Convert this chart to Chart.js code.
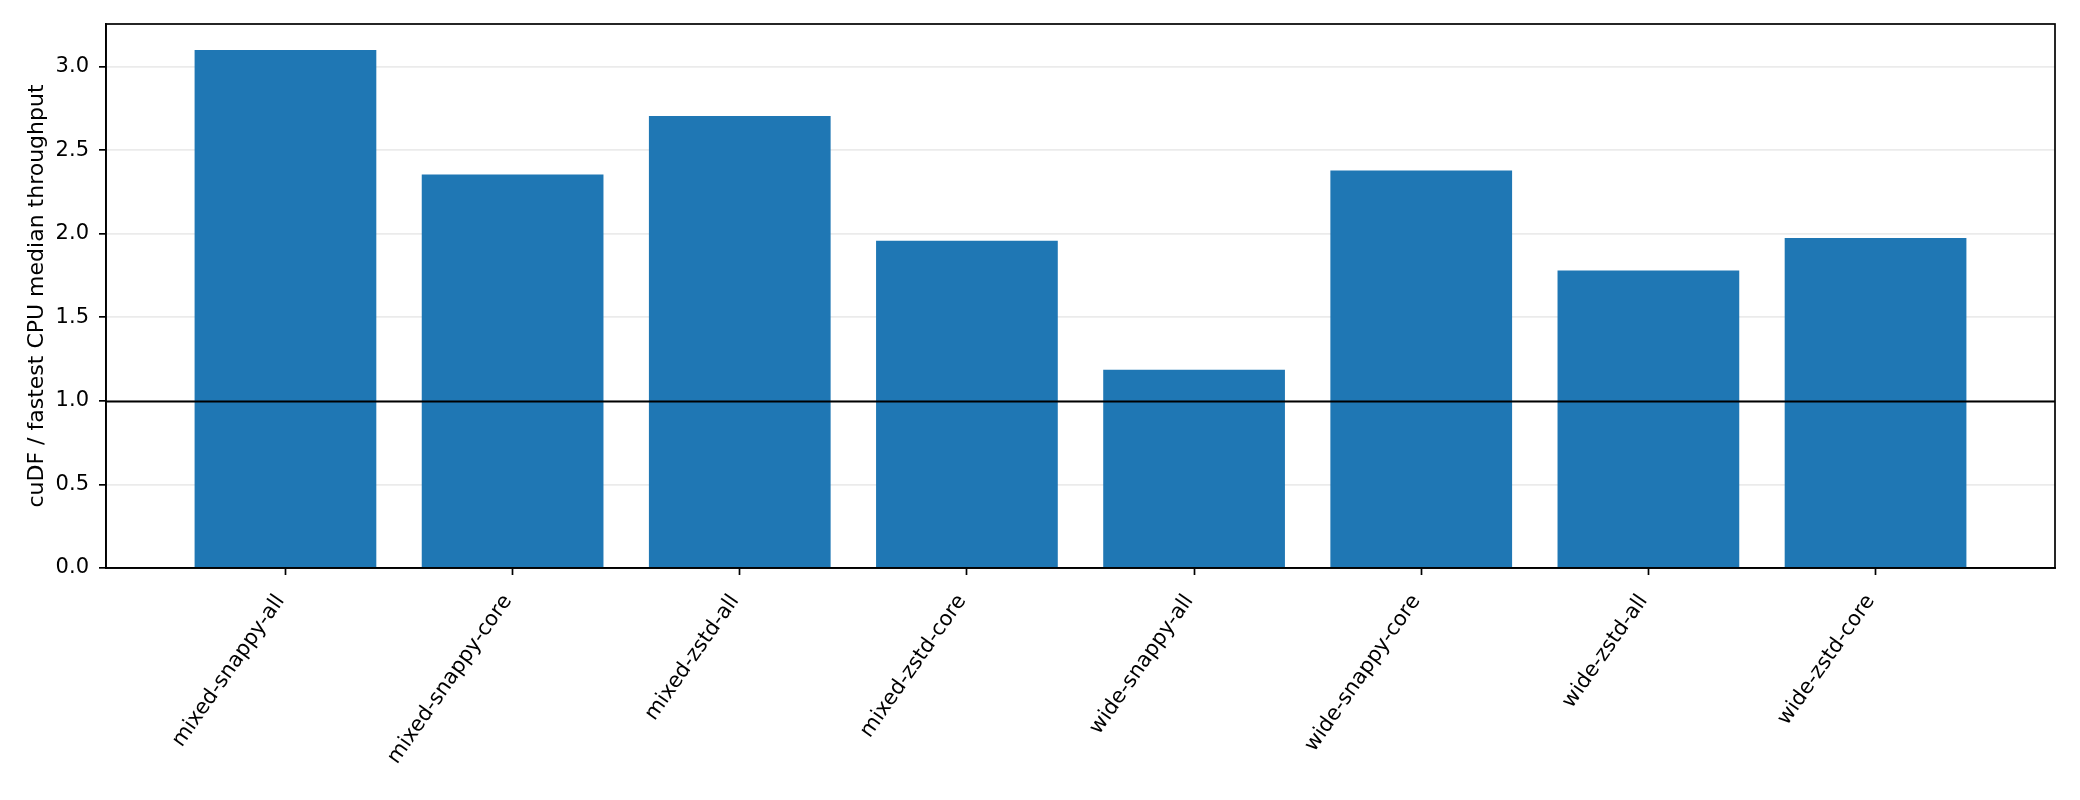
<!DOCTYPE html>
<html><head><meta charset="utf-8">
<script src="https://cdn.jsdelivr.net/npm/chart.js@4.4.1/dist/chart.umd.min.js"></script>
<style>html,body{margin:0;padding:0;background:#fff}canvas{display:block}</style>
</head><body>
<canvas id="c" width="2080" height="800"></canvas>
<script>
const categories = ["mixed-snappy-all","mixed-snappy-core","mixed-zstd-all","mixed-zstd-core","wide-snappy-all","wide-snappy-core","wide-zstd-all","wide-zstd-core"];
const ratios = [3.10, 2.355, 2.705, 1.958, 1.186, 2.378, 1.780, 1.975];
const yTicks = [0.0, 0.5, 1.0, 1.5, 2.0, 2.5, 3.0];
const yTitle = "cuDF / fastest CPU median throughput";
const referenceLine = 1.0;
const yMax = 3.255;
const xMin = -0.79, xMax = 7.79;

const FONT = "'DejaVu Sans', sans-serif";
const frameAndRef = {
  id: 'frameAndRef',
  afterDraw(chart) {
    const {ctx, chartArea: a, scales: {y}} = chart;
    ctx.save();
    const py = Math.round(y.getPixelForValue(referenceLine)) + 0.5;
    ctx.strokeStyle = '#000';
    ctx.lineWidth = 2;
    ctx.beginPath(); ctx.moveTo(a.left, py); ctx.lineTo(a.right, py); ctx.stroke();
    ctx.lineWidth = 1.7;
    ctx.strokeRect(a.left, a.top, a.right - a.left, a.bottom - a.top);
    ctx.restore();
  }
};

new Chart(document.getElementById('c'), {
  type: 'bar',
  data: {
    datasets: [{
      data: ratios.map((v, i) => ({x: i, y: v})),
      backgroundColor: '#1f77b4',
      borderWidth: 0,
      barPercentage: 0.8,
      categoryPercentage: 1.0
    }]
  },
  options: {
    responsive: false,
    animation: false,
    devicePixelRatio: 1,
    layout: {padding: {top: 24, right: 25, left: 24, bottom: 0}},
    plugins: {legend: {display: false}, tooltip: {enabled: false}},
    scales: {
      x: {
        type: 'linear',
        min: xMin, max: xMax,
        offset: false,
        afterBuildTicks: s => { s.ticks = categories.map((_, i) => ({value: i})); },
        afterFit: s => { s.height = 232; },
        grid: {display: true, offset: false, drawOnChartArea: false, drawTicks: true, tickLength: 7, tickColor: '#000', tickWidth: 1.7},
        border: {display: true, color: '#000', width: 1.7},
        ticks: {
          autoSkip: false, minRotation: 55, maxRotation: 55, padding: 15, labelOffset: -5,
          color: '#000', font: {family: FONT, size: 21},
          callback: v => categories[v]
        }
      },
      y: {
        min: 0, max: yMax,
        z: 1,
        afterBuildTicks: s => { s.ticks = yTicks.map(v => ({value: v})); },
        afterFit: s => { s.width = 82; },
        grid: {display: true, color: 'rgba(176,176,176,0.25)', lineWidth: 1.7, drawTicks: true, tickLength: 7, tickColor: '#000', tickWidth: 1.7},
        border: {display: true, color: '#000', width: 1.7},
        ticks: {color: '#000', padding: 10, font: {family: FONT, size: 21}, callback: v => Number(v).toFixed(1)},
        title: {display: true, text: yTitle, color: '#000', font: {family: FONT, size: 22}, padding: {top: 0, bottom: 0}}
      }
    }
  },
  plugins: [frameAndRef]
});
</script>
</body></html>
